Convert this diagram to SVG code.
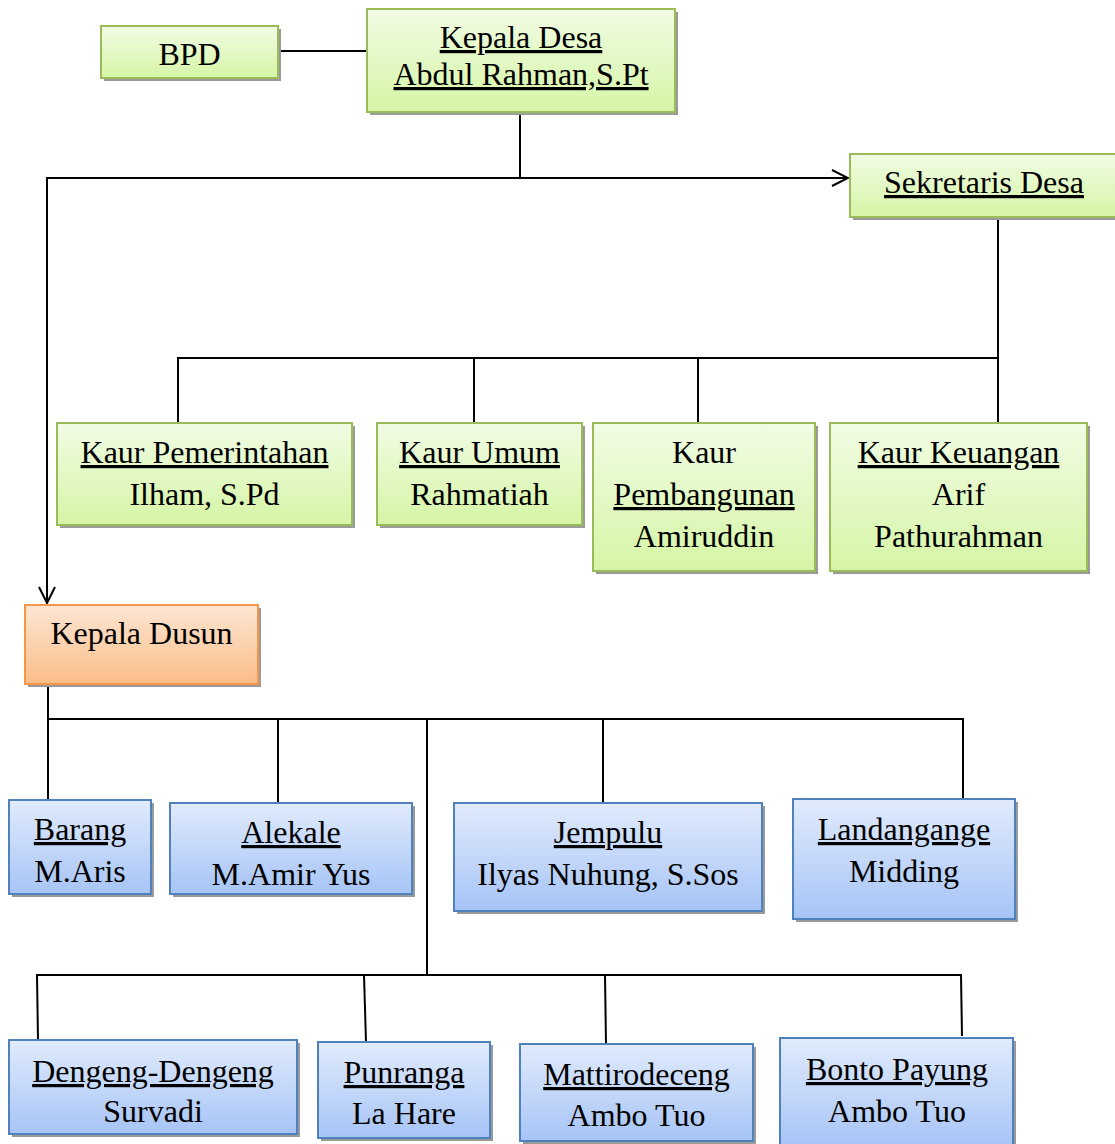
<svg xmlns="http://www.w3.org/2000/svg" width="1115" height="1144" viewBox="0 0 1115 1144">
<defs>
<linearGradient id="gGreen" x1="0" y1="0" x2="0" y2="1"><stop offset="0" stop-color="#f1fce4"/><stop offset="1" stop-color="#d5f5a6"/></linearGradient>
<linearGradient id="gBlue" x1="0" y1="0" x2="0" y2="1"><stop offset="0" stop-color="#e1ebfc"/><stop offset="1" stop-color="#a6c4f6"/></linearGradient>
<linearGradient id="gOrange" x1="0" y1="0" x2="0" y2="1"><stop offset="0" stop-color="#fde6d3"/><stop offset="1" stop-color="#fbbd88"/></linearGradient>
<marker id="arr" viewBox="0 0 20 20" refX="18" refY="10" markerWidth="20" markerHeight="20" markerUnits="userSpaceOnUse" orient="auto">
<path d="M2,2 L18,10 L2,18" fill="none" stroke="#000" stroke-width="2"/>
</marker>
<style>
.sh{fill:#9a9a9a}
.green{fill:url(#gGreen);stroke:#9bbb59;stroke-width:2}
.blue{fill:url(#gBlue);stroke:#4f81bd;stroke-width:2}
.orange{fill:url(#gOrange);stroke:#f79646;stroke-width:2}
text{font-family:"Liberation Serif","Times New Roman",serif;font-size:32px;fill:#000;text-anchor:middle}
.u{text-decoration:underline}
.c{fill:none;stroke:#000;stroke-width:2}
</style>
</defs>

<g id="connectors">
<line class="c" x1="278" y1="51" x2="367" y2="51"/>
<line class="c" x1="520" y1="112" x2="520" y2="178"/>
<path class="c" d="M520,178 H848" marker-end="url(#arr)"/>
<path class="c" d="M520,178 H47 V603" marker-end="url(#arr)"/>
<line class="c" x1="998" y1="217" x2="998" y2="423"/>
<line class="c" x1="177" y1="358" x2="998" y2="358"/>
<line class="c" x1="178" y1="358" x2="178" y2="423"/>
<line class="c" x1="474" y1="358" x2="474" y2="423"/>
<line class="c" x1="698" y1="358" x2="698" y2="423"/>
<line class="c" x1="48" y1="685" x2="48" y2="800"/>
<path class="c" d="M48,719 H963 V799"/>
<line class="c" x1="278" y1="719" x2="278" y2="803"/>
<line class="c" x1="603" y1="719" x2="603" y2="803"/>
<line class="c" x1="427" y1="719" x2="427" y2="976"/>
<line class="c" x1="36" y1="975" x2="962" y2="975"/>
<line class="c" x1="37" y1="975" x2="38" y2="1040"/>
<line class="c" x1="364" y1="975" x2="366" y2="1042"/>
<line class="c" x1="605" y1="975" x2="606" y2="1044"/>
<line class="c" x1="961" y1="975" x2="962" y2="1036"/>
</g>

<g id="bpd">
<rect class="sh" x="104" y="29" width="177" height="52"/>
<rect class="green" x="101" y="26" width="177" height="52"/>
<text x="189.5" y="65">BPD</text>
</g>

<g id="kepala-desa">
<rect class="sh" x="370" y="12" width="308" height="103"/>
<rect class="green" x="367" y="9" width="308" height="103"/>
<text class="u" x="521" y="48">Kepala Desa</text>
<text class="u" x="521" y="85">Abdul Rahman,S.Pt</text>
</g>

<g id="sekretaris-desa">
<rect class="sh" x="853" y="157" width="270" height="63"/>
<rect class="green" x="850" y="154" width="270" height="63"/>
<text class="u" x="984" y="193">Sekretaris Desa</text>
</g>

<g id="kaur-pemerintahan">
<rect class="sh" x="60" y="426" width="295" height="102"/>
<rect class="green" x="57" y="423" width="295" height="102"/>
<text class="u" x="204.5" y="463">Kaur Pemerintahan</text>
<text x="204.5" y="505">Ilham, S.Pd</text>
</g>

<g id="kaur-umum">
<rect class="sh" x="380" y="426" width="205" height="102"/>
<rect class="green" x="377" y="423" width="205" height="102"/>
<text class="u" x="479.5" y="463">Kaur Umum</text>
<text x="479.5" y="505">Rahmatiah</text>
</g>

<g id="kaur-pembangunan">
<rect class="sh" x="596" y="426" width="222" height="148"/>
<rect class="green" x="593" y="423" width="222" height="148"/>
<text x="704" y="463">Kaur</text>
<text class="u" x="704" y="505">Pembangunan</text>
<text x="704" y="547">Amiruddin</text>
</g>

<g id="kaur-keuangan">
<rect class="sh" x="833" y="426" width="257" height="148"/>
<rect class="green" x="830" y="423" width="257" height="148"/>
<text class="u" x="958.5" y="463">Kaur Keuangan</text>
<text x="958.5" y="505">Arif</text>
<text x="958.5" y="547">Pathurahman</text>
</g>

<g id="kepala-dusun">
<rect class="sh" x="28" y="608" width="233" height="79"/>
<rect class="orange" x="25" y="605" width="233" height="79"/>
<text x="141.5" y="644">Kepala Dusun</text>
</g>

<g id="barang">
<rect class="sh" x="12" y="803" width="142" height="94"/>
<rect class="blue" x="9" y="800" width="142" height="94"/>
<text class="u" x="80" y="840">Barang</text>
<text x="80" y="882">M.Aris</text>
</g>

<g id="alekale">
<rect class="sh" x="173" y="806" width="242" height="91"/>
<rect class="blue" x="170" y="803" width="242" height="91"/>
<text class="u" x="291" y="843">Alekale</text>
<text x="291" y="885">M.Amir Yus</text>
</g>

<g id="jempulu">
<rect class="sh" x="457" y="806" width="308" height="108"/>
<rect class="blue" x="454" y="803" width="308" height="108"/>
<text class="u" x="608" y="843">Jempulu</text>
<text x="608" y="885">Ilyas Nuhung, S.Sos</text>
</g>

<g id="landangange">
<rect class="sh" x="796" y="802" width="222" height="120"/>
<rect class="blue" x="793" y="799" width="222" height="120"/>
<text class="u" x="904" y="840">Landangange</text>
<text x="904" y="882">Midding</text>
</g>

<g id="dengeng-dengeng">
<rect class="sh" x="12" y="1043" width="288" height="94"/>
<rect class="blue" x="9" y="1040" width="288" height="94"/>
<text class="u" x="153" y="1082">Dengeng-Dengeng</text>
<text x="153" y="1122">Survadi</text>
</g>

<g id="punranga">
<rect class="sh" x="321" y="1045" width="172" height="96"/>
<rect class="blue" x="318" y="1042" width="172" height="96"/>
<text class="u" x="404" y="1083">Punranga</text>
<text x="404" y="1124">La Hare</text>
</g>

<g id="mattirodeceng">
<rect class="sh" x="523" y="1047" width="233" height="97"/>
<rect class="blue" x="520" y="1044" width="233" height="97"/>
<text class="u" x="636.5" y="1085">Mattirodeceng</text>
<text x="636.5" y="1126">Ambo Tuo</text>
</g>

<g id="bonto-payung">
<rect class="sh" x="783" y="1041" width="233" height="110"/>
<rect class="blue" x="780" y="1038" width="233" height="110"/>
<text class="u" x="897" y="1080">Bonto Payung</text>
<text x="897" y="1122">Ambo Tuo</text>
</g>
</svg>
